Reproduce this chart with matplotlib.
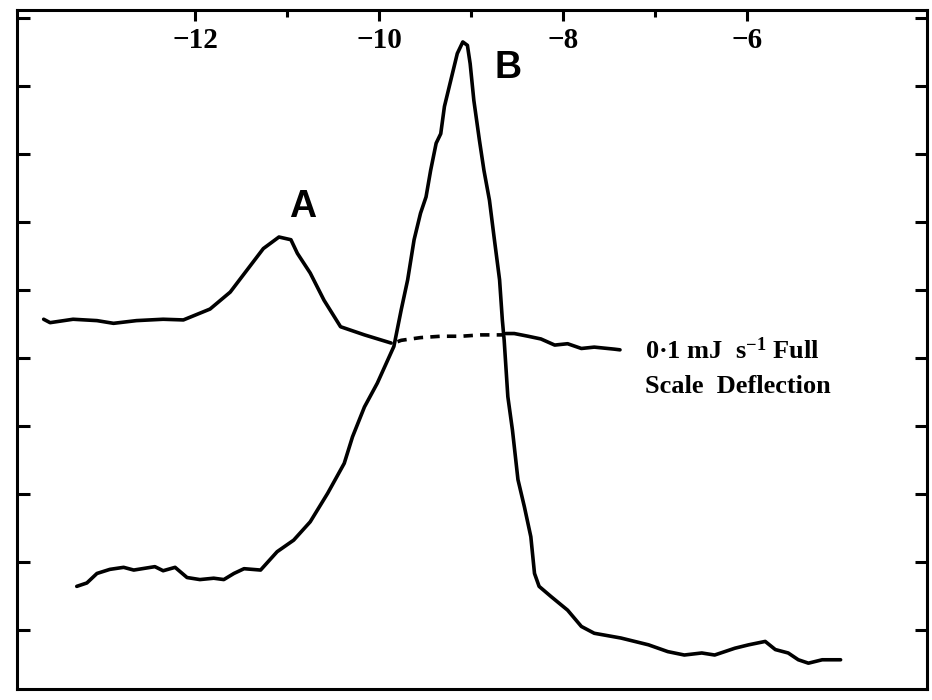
import matplotlib
matplotlib.use("Agg")
import matplotlib.pyplot as plt
from matplotlib.ticker import FixedLocator, NullFormatter

# Upper trace (A), solid portion left of the crossing
upper_left_x = [-13.65, -13.58, -13.33, -13.07, -12.89, -12.64, -12.35, -12.13,
                -11.84, -11.62, -11.44, -11.26, -11.09, -10.96, -10.89, -10.75,
                -10.60, -10.42, -10.16, -9.87]
upper_left_y = [5.57, 5.52, 5.57, 5.55, 5.51, 5.55, 5.57, 5.56,
                5.72, 5.97, 6.29, 6.61, 6.78, 6.74, 6.54, 6.25,
                5.85, 5.46, 5.34, 5.22]

# Upper trace, interpolated baseline under peak B (dashed)
upper_gap_x = [-9.80, -9.76, -9.55, -9.33, -9.11, -8.89, -8.66]
upper_gap_y = [5.24, 5.26, 5.30, 5.32, 5.32, 5.34, 5.34]

# Upper trace, solid portion right of peak B
upper_right_x = [-8.62, -8.53, -8.38, -8.24, -8.09, -7.95, -7.80, -7.66, -7.44, -7.38]
upper_right_y = [5.36, 5.36, 5.32, 5.28, 5.19, 5.21, 5.14, 5.16, 5.13, 5.12]

# Lower trace (B)
lower_x = [-13.29, -13.18, -13.07, -12.93, -12.78, -12.67, -12.44, -12.35, -12.22,
           -12.09, -11.95, -11.80, -11.69, -11.58, -11.47, -11.29, -11.11, -10.93,
           -10.75, -10.56, -10.38, -10.29, -10.16, -10.02, -9.84, -9.76, -9.69,
           -9.62, -9.55, -9.49, -9.44, -9.38, -9.33, -9.29, -9.22, -9.15, -9.09,
           -9.04, -9.01, -8.97, -8.91, -8.86, -8.80, -8.75, -8.69, -8.66, -8.64,
           -8.60, -8.55, -8.49, -8.42, -8.35, -8.31, -8.26, -8.13, -7.95, -7.80,
           -7.66, -7.37, -7.07, -6.86, -6.68, -6.49, -6.35, -6.13, -5.98, -5.80,
           -5.69, -5.55, -5.44, -5.33, -5.18, -4.98]
lower_y = [1.64, 1.69, 1.83, 1.89, 1.92, 1.88, 1.93, 1.87, 1.92,
           1.77, 1.74, 1.76, 1.74, 1.83, 1.90, 1.88, 2.15, 2.32,
           2.59, 3.01, 3.45, 3.84, 4.28, 4.63, 5.17, 5.71, 6.15,
           6.74, 7.13, 7.37, 7.76, 8.16, 8.30, 8.70, 9.09, 9.48, 9.65,
           9.60, 9.33, 8.79, 8.21, 7.76, 7.32, 6.78, 6.15, 5.56, 5.26,
           4.43, 3.94, 3.21, 2.81, 2.37, 1.83, 1.64, 1.49, 1.29, 1.05,
           0.95, 0.88, 0.78, 0.68, 0.63, 0.66, 0.63, 0.73, 0.78, 0.83,
           0.71, 0.66, 0.56, 0.51, 0.56, 0.56]

x_major = [-12, -10, -8, -6]
x_minor = [-11, -9, -7]
y_ticks = [1, 2, 3, 4, 5, 6, 7, 8, 9, 10]

peak_labels = ["A", "B"]
peak_label_x = [-10.83, -8.60]
peak_label_y = [7.22, 9.26]

scale_lines = ["0·1 mJ  s$^{-1}$ Full", "Scale  Deflection"]
scale_x = -7.11
scale_y = [4.98, 4.48]

serif_bold = {"family": "Liberation Serif", "weight": "bold"}

plt.rcParams["mathtext.fontset"] = "custom"
plt.rcParams["mathtext.rm"] = "Liberation Serif:bold"
plt.rcParams["mathtext.it"] = "Liberation Serif:bold"
plt.rcParams["mathtext.bf"] = "Liberation Serif:bold"

fig = plt.figure(figsize=(9.32, 7.0), dpi=100)
ax = fig.add_axes([17 / 932, 11 / 700, (927 - 17) / 932, (690 - 11) / 700])

lw = 2.6
ax.plot(upper_left_x, upper_left_y, color="black", lw=lw, solid_capstyle="round")
ax.plot(upper_gap_x, upper_gap_y, color="black", lw=lw, dashes=(2.6, 2.0))
ax.plot(upper_right_x, upper_right_y, color="black", lw=lw, solid_capstyle="round")
ax.plot(lower_x, lower_y, color="black", lw=lw, solid_capstyle="round")

ax.set_xlim(-13.94, -4.04)
ax.set_ylim(0.13, 10.12)

for s in ax.spines.values():
    s.set_linewidth(2.2)

ax.xaxis.set_major_locator(FixedLocator(x_major))
ax.xaxis.set_minor_locator(FixedLocator(x_minor))
ax.xaxis.set_minor_formatter(NullFormatter())
ax.tick_params(axis="x", which="both", top=True, bottom=False,
               labeltop=True, labelbottom=False, direction="in")
ax.tick_params(axis="x", which="major", length=8, width=2.2, pad=-32,
               labelsize=21)
ax.tick_params(axis="x", which="minor", length=5, width=2.2)
for lab in ax.get_xticklabels():
    lab.set_fontfamily("Liberation Serif")
    lab.set_fontweight("bold")

ax.yaxis.set_major_locator(FixedLocator(y_ticks))
ax.tick_params(axis="y", which="both", left=True, right=True,
               labelleft=False, labelright=False, direction="in",
               length=9, width=2.2)

for t, x, y in zip(peak_labels, peak_label_x, peak_label_y):
    ax.text(x, y, t, fontsize=27, fontweight="bold", family="Liberation Sans",
            ha="center", va="center")

for line, y in zip(scale_lines, scale_y):
    ax.text(scale_x, y, line, fontsize=19, ha="left", va="baseline", **serif_bold)

fig.savefig("out.png", dpi=100)
